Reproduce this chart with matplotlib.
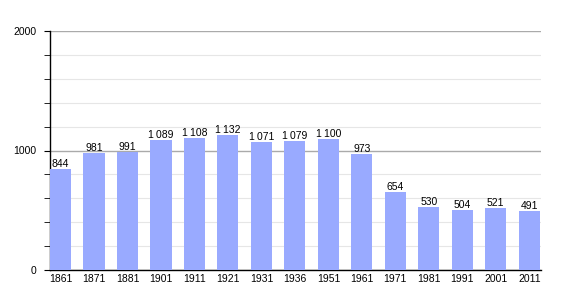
import matplotlib
matplotlib.use("Agg")
import matplotlib.pyplot as plt
from matplotlib.ticker import MultipleLocator

years = ["1861", "1871", "1881", "1901", "1911", "1921", "1931", "1936",
         "1951", "1961", "1971", "1981", "1991", "2001", "2011"]
population = [844, 981, 991, 1089, 1108, 1132, 1071, 1079, 1100, 973,
              654, 530, 504, 521, 491]

plt.rcParams['font.family'] = ['Liberation Sans', 'DejaVu Sans']

fig = plt.figure(figsize=(5.7, 3.0), dpi=100)
ax = fig.add_axes([50/570, 30/300, 491/570, 239/300])

x = list(range(len(years)))
ax.bar(x, population, width=0.63, color="#99aaff", zorder=3)

for xi, v in zip(x, population):
    s = f"{v:,}".replace(",", "\u2009")
    ax.text(xi, v, s, ha="center", va="bottom", fontsize=7.5, zorder=4)

ax.set_xlim(-0.315, 14.35)
ax.set_ylim(0, 2000)
ax.set_xticks(x)
ax.set_xticklabels(years, fontsize=7.5)
ax.tick_params(axis="x", length=0, pad=3)
ax.yaxis.set_major_locator(MultipleLocator(1000))
ax.yaxis.set_minor_locator(MultipleLocator(200))
ax.tick_params(axis="y", which="major", length=4, labelsize=7.5, pad=5.5)
ax.tick_params(axis="y", which="minor", length=4)
ax.grid(axis="y", which="major", color="#aaaaaa", lw=1, zorder=1)
ax.grid(axis="y", which="minor", color="#e6e6e6", lw=0.8, zorder=1)
for side in ["top", "right"]:
    ax.spines[side].set_visible(False)
ax.spines["left"].set_linewidth(1)
ax.spines["bottom"].set_linewidth(1)

fig.savefig("out.png", dpi=100)
